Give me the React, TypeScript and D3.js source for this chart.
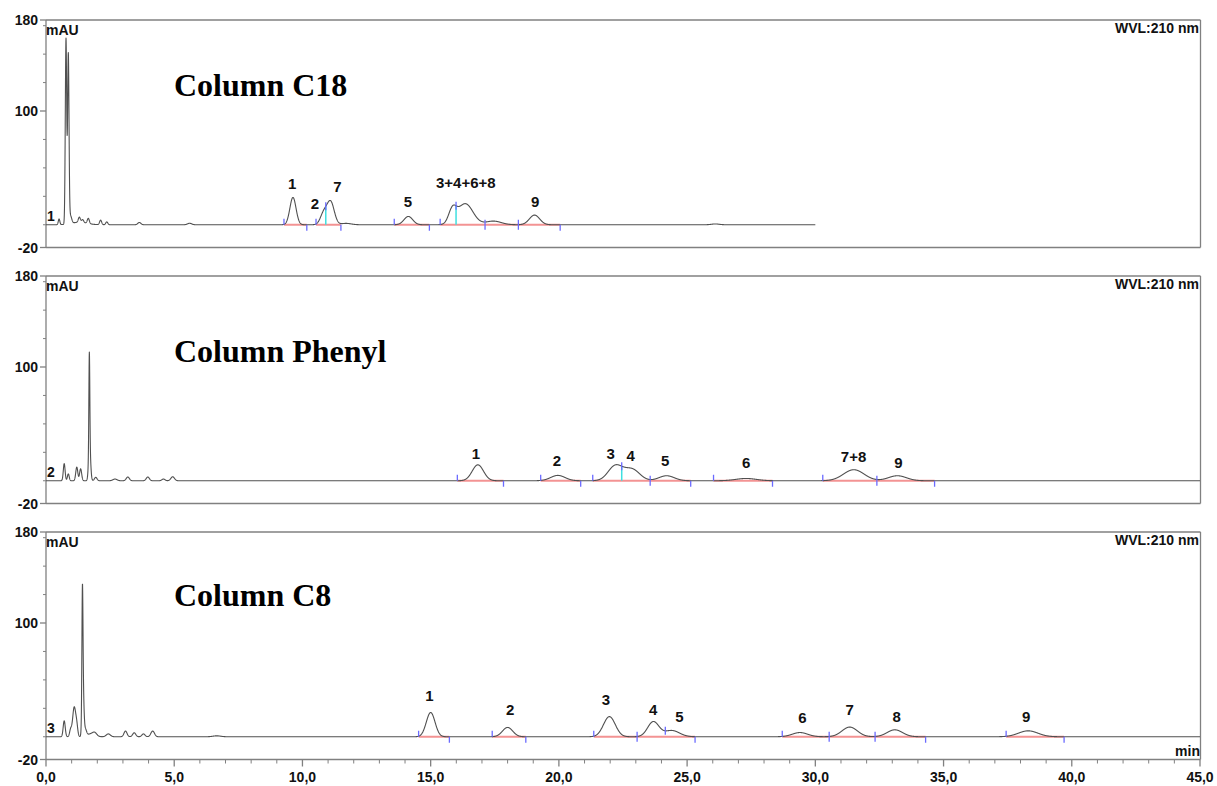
import React from 'react';
import * as d3 from 'd3';

// Peak tables per column: [retention time (min), height (mAU), sigma (min)]
const c18Peaks: [number, number, number][] = [
  [0.51, 5, 0.03], [0.78, 163, 0.027], [0.87, 148, 0.027], [0.95, 7, 0.05],
  [1.3, 4.5, 0.04], [1.43, 2.5, 0.04], [1.3, 2.2, 0.3], [1.65, 4.5, 0.04],
  [2.13, 4, 0.04], [2.37, 2.5, 0.04], [3.64, 2, 0.06], [5.6, 1.3, 0.08],
  [9.63, 24, 0.12], [10.83, 10, 0.13], [11.1, 20, 0.14], [11.7, 1.2, 0.2],
  [14.13, 7.3, 0.17], [15.85, 12, 0.15], [16.35, 18.5, 0.3], [17.45, 3.2, 0.3],
  [19.05, 8.5, 0.2], [26.1, 0.7, 0.15],
];
const phenylPeaks: [number, number, number][] = [
  [0.71, 15, 0.035], [0.87, 6, 0.035], [1.2, 12, 0.04], [1.35, 10.5, 0.04],
  [1.69, 84, 0.018], [1.7, 30, 0.04], [1.94, 3, 0.05], [2.69, 1.5, 0.08],
  [3.19, 3.3, 0.06], [3.97, 3.3, 0.06], [4.58, 1.5, 0.06], [4.94, 3.5, 0.07],
  [16.84, 14, 0.22], [19.96, 4.7, 0.28], [22.2, 13, 0.28], [22.85, 10, 0.3],
  [24.2, 4.4, 0.3], [27.3, 2, 0.4], [31.5, 9.7, 0.4], [33.2, 4.4, 0.35],
];
const c8Peaks: [number, number, number][] = [
  [0.71, 14, 0.04], [0.96, 6, 0.04], [1.1, 26, 0.06], [1.2, 8, 0.04],
  [1.42, 95, 0.02], [1.44, 45, 0.035], [1.53, 6, 0.05], [1.75, 2.5, 0.15],
  [1.9, 2.5, 0.08], [2.43, 2.5, 0.08], [3.1, 5, 0.06], [3.44, 3.5, 0.06],
  [3.8, 2.5, 0.06], [4.16, 5, 0.07], [6.66, 0.8, 0.15],
  [15.0, 21.3, 0.17], [18.0, 8.2, 0.2], [21.97, 17.7, 0.23], [23.68, 13.1, 0.22],
  [24.4, 5.5, 0.3], [29.4, 3.7, 0.3], [31.34, 8.5, 0.3], [33.1, 6.1, 0.3],
  [38.3, 5.2, 0.38],
];

// Peak name labels: [text, time (min), text baseline (mAU)]
const c18Labels: [string, number, number][] = [
  ['1', 9.6, 31.3], ['2', 10.49, 13.7], ['7', 11.36, 28.4], ['5', 14.11, 16],
  ['3+4+6+8', 16.37, 32.2], ['9', 19.08, 16],
];
const phenylLabels: [string, number, number][] = [
  ['1', 16.76, 19.2], ['2', 19.92, 13.3], ['3', 22.02, 19.2], ['4', 22.8, 17.4],
  ['5', 24.14, 13.3], ['6', 27.3, 11], ['7+8', 31.49, 16.8], ['9', 33.24, 11.5],
];
const c8Labels: [string, number, number][] = [
  ['1', 14.95, 31.4], ['2', 18.1, 19.1], ['3', 21.83, 28.3], ['4', 23.68, 18.7],
  ['5', 24.7, 13], ['6', 29.5, 12.5], ['7', 31.34, 18.7], ['8', 33.17, 13], ['9', 38.22, 13],
];

// Integration baselines [start, end] (min)
const c18Baselines: [number, number][] = [[9.28, 10.17], [10.53, 11.5], [13.58, 14.95], [15.37, 20.05]];
const phenylBaselines: [number, number][] = [[16.04, 17.84], [19.29, 20.85], [21.32, 25.14], [26.03, 28.33], [30.29, 34.65]];
const c8Baselines: [number, number][] = [[14.53, 15.73], [17.4, 18.71], [21.36, 25.31], [28.71, 34.3], [37.44, 39.7]];

// Peak delimiters: [time (min), kind]
type MarkKind = 'up' | 'down' | 'both' | 'drop' | 'onTrace';
const c18Marks: [number, MarkKind][] = [
  [9.28, 'up'], [10.17, 'down'], [10.53, 'up'], [10.91, 'drop'], [11.5, 'down'],
  [13.58, 'up'], [14.95, 'down'], [15.37, 'up'], [15.99, 'drop'], [17.12, 'both'],
  [18.42, 'both'], [20.05, 'down'],
];
const phenylMarks: [number, MarkKind][] = [
  [16.04, 'up'], [17.84, 'down'], [19.29, 'up'], [20.85, 'down'], [21.32, 'up'],
  [22.45, 'drop'], [23.56, 'both'], [25.14, 'down'], [26.03, 'up'], [28.33, 'down'],
  [30.29, 'up'], [32.4, 'both'], [34.65, 'down'],
];
const c8Marks: [number, MarkKind][] = [
  [14.53, 'up'], [15.73, 'down'], [17.4, 'up'], [18.71, 'down'], [21.36, 'up'],
  [23.05, 'both'], [24.15, 'onTrace'], [25.31, 'down'], [28.71, 'up'], [30.54, 'both'],
  [32.33, 'both'], [34.3, 'down'], [37.44, 'up'], [39.7, 'down'],
];

const columnTitles = ['Column C18', 'Column Phenyl', 'Column C8'];
const traceNumbers = ['1', '2', '3'];
const runEnds = [30, 45, 45];
const xTicks = [0, 5, 10, 15, 20, 25, 30, 35, 40, 45];
const yMajorTicks = [180, 100, -20];
const yMinorTicks = [175, 150, 125, 75, 50, 25, 0];

const panels = [
  { peaks: c18Peaks, labels: c18Labels, baselines: c18Baselines, marks: c18Marks },
  { peaks: phenylPeaks, labels: phenylLabels, baselines: phenylBaselines, marks: phenylMarks },
  { peaks: c8Peaks, labels: c8Labels, baselines: c8Baselines, marks: c8Marks },
];

const W = 1217;
const H = 786;
const panelTops = [20, 276, 532];
const panelH = 227.5;
const titleOffsets = [76, 86, 74];
const sans = '"Liberation Sans", Arial, sans-serif';
const serif = '"Liberation Serif", "Times New Roman", serif';
const frameColor = '#808080';

function signal(peaks: [number, number, number][], t: number): number {
  let v = 0;
  for (const [rt, h, s] of peaks) {
    const d = t - rt;
    v += h * Math.exp(-(d * d) / (2 * s * s));
  }
  return v;
}

const x = d3.scaleLinear().domain([0, 45]).range([46, 1200]);

function Panel({ idx }: { idx: number }) {
  const p = panels[idx];
  const top = panelTops[idx];
  const y = d3.scaleLinear().domain([-20, 180]).range([top + panelH, top]);
  const times = d3.range(0, runEnds[idx] + 1e-9, 0.005);
  const line = d3
    .line<number>()
    .x((t) => x(t))
    .y((t) => y(signal(p.peaks, t)));
  const y0 = y(0);
  return (
    <g>
      {/* frame */}
      <line x1={46} x2={1200.5} y1={top} y2={top} stroke={frameColor} strokeWidth={1.3} />
      <line x1={1200.5} x2={1200.5} y1={top} y2={top + panelH} stroke={frameColor} strokeWidth={1.3} />
      <line x1={46} x2={1200.5} y1={top + panelH} y2={top + panelH} stroke={frameColor} strokeWidth={1.3} />
      <line x1={46} x2={46} y1={top} y2={top + panelH} stroke={frameColor} strokeWidth={1.3} />
      {yMajorTicks.map((v) => (
        <g key={v}>
          <line x1={40} x2={46} y1={y(v)} y2={y(v)} stroke={frameColor} strokeWidth={1.3} />
          <text x={38} y={y(v) + 5} textAnchor="end" fontFamily={sans} fontWeight="bold" fontSize={14} fill="#111">
            {String(v)}
          </text>
        </g>
      ))}
      {yMinorTicks.map((v) => (
        <line key={v} x1={43} x2={46} y1={y(v)} y2={y(v)} stroke={frameColor} strokeWidth={1} />
      ))}
      <text x={46} y={top + 15} fontFamily={sans} fontWeight="bold" fontSize={14} fill="#111">mAU</text>
      <text x={1199} y={top + 13} textAnchor="end" fontFamily={sans} fontWeight="bold" fontSize={14} fill="#111">
        WVL:210 nm
      </text>
      <text x={174} y={top + titleOffsets[idx]} fontFamily={serif} fontWeight="bold" fontSize={32} fill="#000">
        {columnTitles[idx]}
      </text>
      {/* integration baselines */}
      {p.baselines.map(([a, b], i) => (
        <line key={i} x1={x(a)} x2={x(b)} y1={y0} y2={y0} stroke="#f07878" strokeOpacity={0.8} strokeWidth={2} />
      ))}
      {/* drop lines */}
      {p.marks
        .filter(([, k]) => k === 'drop')
        .map(([t], i) => (
          <line key={i} x1={x(t)} x2={x(t)} y1={y0} y2={y(signal(p.peaks, t))} stroke="#3fe0e0" strokeWidth={1.5} />
        ))}
      <path d={line(times) || ''} fill="none" stroke="#505050" strokeWidth={1.1} strokeLinejoin="round" />
      {/* peak delimiters */}
      {p.marks.map(([t, k], i) => {
        let a = y0;
        let b = y0;
        if (k === 'up') { a = y0 - 6; b = y0; }
        else if (k === 'down') { a = y0; b = y0 + 6; }
        else if (k === 'both') { a = y0 - 5; b = y0 + 5; }
        else {
          const yt = y(signal(p.peaks, t));
          a = yt - 4; b = yt + 4;
        }
        return <line key={i} x1={x(t)} x2={x(t)} y1={a} y2={b} stroke="#6b6bff" strokeWidth={1.3} />;
      })}
      {p.labels.map(([txt, t, v], i) => (
        <text key={i} x={x(t)} y={y(v)} textAnchor="middle" fontFamily={sans} fontWeight="bold" fontSize={15} fill="#111">
          {txt}
        </text>
      ))}
      <text x={47} y={y0 - 4} fontFamily={sans} fontWeight="bold" fontSize={14} fill="#111">
        {traceNumbers[idx]}
      </text>
    </g>
  );
}

export default function App() {
  const axisY = panelTops[2] + panelH;
  const minorX = d3.range(0, 45.001, 1).filter((v) => v % 5 !== 0);
  return (
    <svg width={W} height={H} style={{ display: 'block', position: 'absolute', left: 0, top: 0, background: '#fff' }}>
      <rect x={0} y={0} width={W} height={H} fill="#fff" />
      {panels.map((_, i) => (
        <Panel key={i} idx={i} />
      ))}
      {xTicks.map((v) => (
        <g key={v}>
          <line x1={x(v)} x2={x(v)} y1={axisY} y2={axisY + 7} stroke={frameColor} strokeWidth={1.3} />
          <text x={x(v)} y={axisY + 22} textAnchor="middle" fontFamily={sans} fontWeight="bold" fontSize={14} fill="#111">
            {v.toFixed(1).replace('.', ',')}
          </text>
        </g>
      ))}
      {minorX.map((v) => (
        <line key={v} x1={x(v)} x2={x(v)} y1={axisY} y2={axisY + 4} stroke={frameColor} strokeWidth={1} />
      ))}
      <text x={1200} y={axisY - 3.5} textAnchor="end" fontFamily={sans} fontWeight="bold" fontSize={14} fill="#111">
        min
      </text>
    </svg>
  );
}
